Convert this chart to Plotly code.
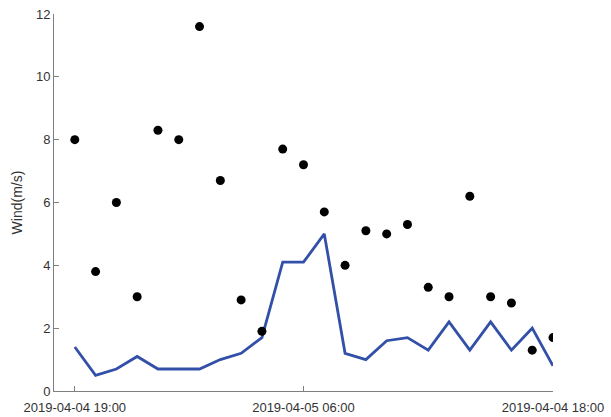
import plotly.graph_objects as go

# Hourly wind records: observed (dots) and forecast (line)
hours = list(range(24))
observed = [8.0, 3.8, 6.0, 3.0, 8.3, 8.0, 11.6, 6.7, 2.9, 1.9, 7.7, 7.2,
            5.7, 4.0, 5.1, 5.0, 5.3, 3.3, 3.0, 6.2, 3.0, 2.8, 1.3, 1.7]
forecast = [1.4, 0.5, 0.7, 1.1, 0.7, 0.7, 0.7, 1.0, 1.2, 1.7, 4.1, 4.1,
            5.0, 1.2, 1.0, 1.6, 1.7, 1.3, 2.2, 1.3, 2.2, 1.3, 2.0, 0.8]
tick_pos = [0, 11, 23]
tick_text = ["2019-04-04 19:00", "2019-04-05 06:00", "2019-04-04 18:00"]
y_ticks = [0, 2, 4, 6, 8, 10, 12]

axis_color = "#7f7f7f"
font = dict(family="Liberation Sans, Arial, sans-serif", size=13, color="#333333")

fig = go.Figure()
fig.add_trace(go.Scatter(
    x=hours, y=forecast, mode="lines",
    line=dict(color="#3350a8", width=2.8),
    showlegend=False,
))
fig.add_trace(go.Scatter(
    x=hours, y=observed, mode="markers",
    marker=dict(color="black", size=9, line=dict(width=0)),
    showlegend=False,
))

fig.update_layout(
    width=611, height=417,
    margin=dict(l=54, r=58, t=14, b=26),
    paper_bgcolor="white", plot_bgcolor="white",
    font=font,
    xaxis=dict(
        range=[-1, 23], tickmode="array", tickvals=tick_pos, ticktext=tick_text,
        showgrid=False, zeroline=False, showline=True, linecolor=axis_color,
        linewidth=1, ticks="inside", ticklen=5, tickcolor=axis_color,
        tickfont=font, automargin=False, ticklabelstandoff=4,
    ),
    yaxis=dict(
        range=[0, 12], tickmode="array", tickvals=y_ticks,
        showgrid=False, zeroline=False, showline=True, linecolor=axis_color,
        linewidth=1, ticks="inside", ticklen=5, tickcolor=axis_color,
        tickfont=font, automargin=False,
        title=dict(text="Wind(m/s)", font=dict(family=font["family"], size=14,
                                               color="#333333"), standoff=10),
    ),
)

fig.write_html("out.html")
